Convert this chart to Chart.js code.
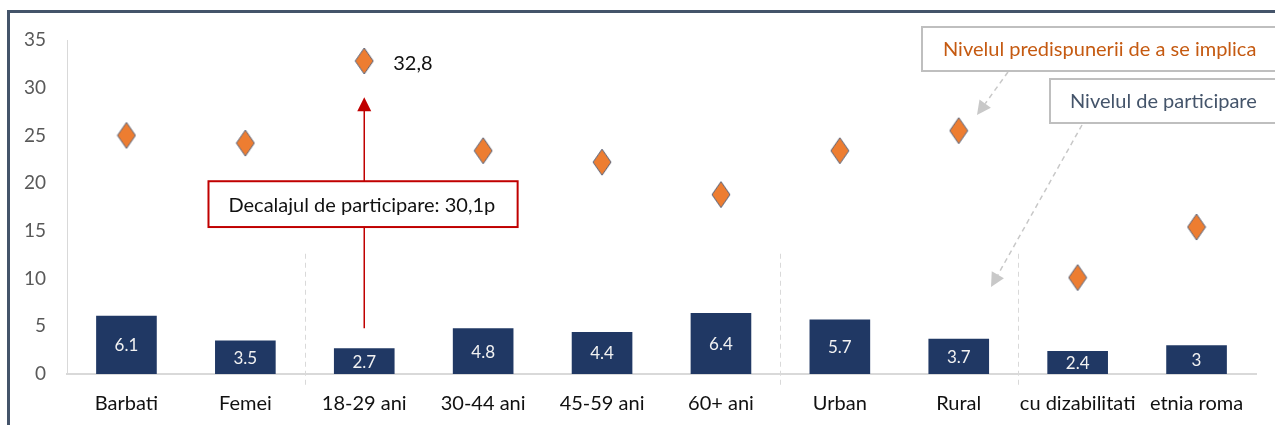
<!DOCTYPE html>
<html lang="ro">
<head>
    <meta charset="UTF-8">
    <title>Nivelul de participare</title>
    <script src="https://cdn.jsdelivr.net/npm/chart.js@4.4.1/dist/chart.umd.min.js"></script>
    <style>
        * { margin: 0; padding: 0; box-sizing: border-box; }
        body { background: #fff; width: 1275px; height: 425px; overflow: hidden; }
        canvas { display: block; }
    </style>
</head>
<body>
    <canvas id="chart" width="1275" height="425"></canvas>

    <script>
        const categories = ['Barbati', 'Femei', '18-29 ani', '30-44 ani', '45-59 ani', '60+ ani', 'Urban', 'Rural', 'cu dizabilitati', 'etnia roma'];
        const participare = [6.1, 3.5, 2.7, 4.8, 4.4, 6.4, 5.7, 3.7, 2.4, 3];
        const predispunere = [25.0, 24.2, 32.8, 23.4, 22.2, 18.8, 23.4, 25.5, 10.1, 15.4];
        const yTicks = [0, 5, 10, 15, 20, 25, 30, 35];
        const separatori = [1.5, 5.5, 7.5];

        const FONT = 'Lato, "Open Sans", sans-serif';

        // romb alungit pentru marker
        function romb(w, h) {
            const c = document.createElement('canvas');
            c.width = w + 2;
            c.height = h + 2;
            const g = c.getContext('2d');
            g.beginPath();
            g.moveTo(c.width / 2, 1);
            g.lineTo(c.width - 1, c.height / 2);
            g.lineTo(c.width / 2, c.height - 1);
            g.lineTo(1, c.height / 2);
            g.closePath();
            g.fillStyle = '#ED7D31';
            g.fill();
            g.strokeStyle = '#56627A';
            g.lineWidth = 1;
            g.stroke();
            return c;
        }

        function sageata(ctx, x1, y1, x2, y2, color, dash, lung, lat) {
            const a = Math.atan2(y2 - y1, x2 - x1);
            const bx = x2 - Math.cos(a) * lung, by = y2 - Math.sin(a) * lung;
            ctx.save();
            ctx.strokeStyle = color;
            ctx.lineWidth = 1.5;
            ctx.setLineDash(dash);
            ctx.beginPath();
            ctx.moveTo(x1, y1);
            ctx.lineTo(bx, by);
            ctx.stroke();
            ctx.setLineDash([]);
            ctx.fillStyle = color;
            ctx.beginPath();
            ctx.moveTo(x2, y2);
            ctx.lineTo(bx + Math.sin(a) * lat, by - Math.cos(a) * lat);
            ctx.lineTo(bx - Math.sin(a) * lat, by + Math.cos(a) * lat);
            ctx.closePath();
            ctx.fill();
            ctx.restore();
        }

        const adnotari = {
            id: 'adnotari',
            afterDatasetsDraw(chart) {
                const ctx = chart.ctx;
                const x = chart.scales.x, y = chart.scales.y;

                // etichete in bare
                const meta = chart.getDatasetMeta(0);
                ctx.save();
                ctx.font = '17px ' + FONT;
                ctx.fillStyle = '#F2F2F2';
                ctx.textAlign = 'center';
                ctx.textBaseline = 'middle';
                meta.data.forEach((bar, i) => {
                    ctx.fillText(String(participare[i]), bar.x, (bar.y + bar.base) / 2 + 1);
                });
                ctx.restore();

                // linii punctate intre grupe
                ctx.save();
                ctx.strokeStyle = '#D9D9D9';
                ctx.lineWidth = 1;
                ctx.setLineDash([5, 4]);
                separatori.forEach(s => {
                    const px = Math.round(x.getPixelForValue(s)) + 0.5;
                    ctx.beginPath();
                    ctx.moveTo(px, y.getPixelForValue(12.6));
                    ctx.lineTo(px, y.bottom + 11);
                    ctx.stroke();
                });
                ctx.restore();
            },
            afterDraw(chart) {
                const ctx = chart.ctx;
                const x = chart.scales.x, y = chart.scales.y;

                // sageata rosie si caseta
                const ax = x.getPixelForValue(2);
                const top = y.getPixelForValue(29.0);
                ctx.save();
                ctx.strokeStyle = '#C00000';
                ctx.lineWidth = 1.5;
                ctx.beginPath();
                ctx.moveTo(ax, y.getPixelForValue(4.8));
                ctx.lineTo(ax, top + 12);
                ctx.stroke();
                ctx.fillStyle = '#C00000';
                ctx.beginPath();
                ctx.moveTo(ax, top);
                ctx.lineTo(ax + 7, top + 14);
                ctx.lineTo(ax - 7, top + 14);
                ctx.closePath();
                ctx.fill();

                const bx1 = x.getPixelForValue(0.69), bx2 = x.getPixelForValue(3.29);
                const by1 = y.getPixelForValue(20.2), by2 = y.getPixelForValue(15.4);
                ctx.fillStyle = '#fff';
                ctx.fillRect(bx1, by1, bx2 - bx1, by2 - by1);
                ctx.lineWidth = 2;
                ctx.strokeRect(bx1, by1, bx2 - bx1, by2 - by1);
                ctx.fillStyle = '#111';
                ctx.font = '20px ' + FONT;
                ctx.textBaseline = 'middle';
                ctx.fillText('Decalajul de participare: 30,1p', bx1 + 20, (by1 + by2) / 2 + 1);

                // valoarea maxima
                ctx.fillText('32,8', ax + 29, y.getPixelForValue(predispunere[2]) + 3);
                ctx.restore();

                // casete legenda
                ctx.save();
                ctx.strokeStyle = '#BFBFBF';
                ctx.lineWidth = 2;
                ctx.fillStyle = '#fff';
                ctx.fillRect(922, 27, 360, 44);
                ctx.strokeRect(922, 27, 360, 44);
                ctx.fillRect(1050, 79, 240, 44);
                ctx.strokeRect(1050, 79, 240, 44);
                ctx.font = '20px ' + FONT;
                ctx.textBaseline = 'middle';
                ctx.fillStyle = '#C55A11';
                ctx.fillText('Nivelul predispunerii de a se implica', 943, 50);
                ctx.fillStyle = '#44546A';
                ctx.fillText('Nivelul de participare', 1070, 102);
                ctx.restore();

                sageata(ctx, 1008, 72, 977, 115, '#C8C8C8', [5, 4], 14, 7);
                sageata(ctx, 1082, 125, 991, 287, '#C8C8C8', [5, 4], 14, 7);

                // chenar
                ctx.save();
                ctx.fillStyle = '#44546A';
                ctx.fillRect(7, 10, 1268, 3);
                ctx.fillRect(7, 10, 3, 415);
                ctx.restore();
            }
        };

        new Chart(document.getElementById('chart'), {
            data: {
                labels: categories,
                datasets: [{
                    type: 'bar',
                    label: 'Nivelul de participare',
                    data: participare,
                    backgroundColor: '#203864',
                    barPercentage: 1,
                    categoryPercentage: 0.51,
                    order: 2
                }, {
                    type: 'line',
                    label: 'Nivelul predispunerii de a se implica',
                    data: predispunere,
                    showLine: false,
                    pointStyle: romb(18, 26),
                    pointRadius: 13,
                    order: 1
                }]
            },
            options: {
                responsive: false,
                animation: false,
                events: [],
                layout: { padding: { top: 40, right: 19, left: 0, bottom: 0 } },
                plugins: {
                    legend: { display: false },
                    tooltip: { enabled: false }
                },
                scales: {
                    x: {
                        grid: { display: false, drawTicks: false },
                        border: { display: true, color: '#D9D9D9', width: 2 },
                        ticks: { color: '#111', font: { size: 20, family: FONT }, padding: 18, maxRotation: 0, autoSkip: false },
                        afterFit(scale) { scale.height = 51; }
                    },
                    y: {
                        min: 0,
                        max: 35,
                        afterBuildTicks(scale) { scale.ticks = yTicks.map(v => ({ value: v })); },
                        grid: { display: false, drawTicks: false },
                        border: { display: true, color: '#D9D9D9', width: 1 },
                        ticks: { color: '#595959', font: { size: 19, family: FONT }, padding: 21 },
                        afterFit(scale) { scale.width = 67; }
                    }
                }
            },
            plugins: [adnotari]
        });
    </script>
</body>
</html>
